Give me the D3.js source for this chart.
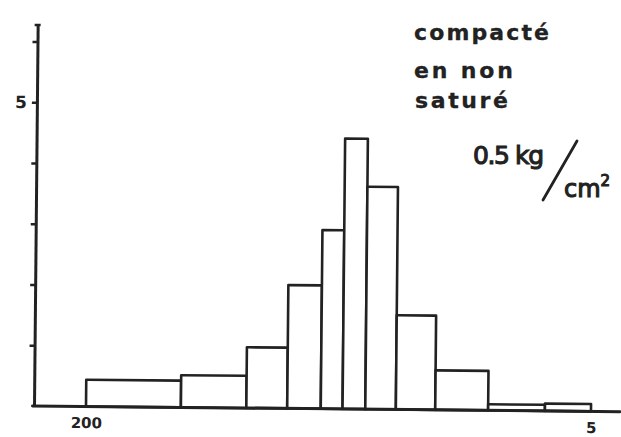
<!DOCTYPE html>
<html>
<head>
<meta charset="utf-8">
<script src="https://cdn.jsdelivr.net/npm/d3@7/dist/d3.min.js"></script>
<style>
  html, body { margin: 0; padding: 0; background: #fff; }
  svg { display: block; }
  text { font-family: "DejaVu Sans", sans-serif; fill: #222; }
</style>
</head>
<body>
<svg id="chart" width="621" height="437"></svg>
<script>
// Grain-size classes (µm, coarse to fine) and the frequency of each class
const binEdges = [200, 100, 62, 46, 36, 30.7, 26, 20.8, 15.6, 10.6, 7, 5];
const frequencies = [0.44, 0.53, 1.0, 2.03, 2.94, 4.45, 3.66, 1.55, 0.65, 0.1, 0.12];
const yTickValues = [1, 2, 3, 4, 5, 6];
const yTickLabels = ["", "", "", "", "5", ""];
const xTickValues = [200, 5];
const titleLines = ["compacté", "en non", "saturé"];

const width = 621, height = 437;
const plot = { left: 34, right: 620, top: 25, bottom: 406 };
const ink = "#222";

const svg = d3.select("#chart");

const x = d3.scaleLog().domain([200, 5]).range([86, 591]);
const y = d3.scaleLinear().domain([0, 6.27]).range([plot.bottom, plot.top]);

const bins = frequencies.map((v, i) => ({ x0: binEdges[i], x1: binEdges[i + 1], v }));

// Whole plotting frame is drawn slightly turned, as on the hand-drawn sheet
const g = svg.append("g")
  .attr("transform", `rotate(0.55, ${plot.left}, ${plot.bottom})`);

// histogram bars
g.append("g")
  .selectAll("rect")
  .data(bins)
  .join("rect")
  .attr("x", d => x(d.x0))
  .attr("width", d => x(d.x1) - x(d.x0))
  .attr("y", d => y(d.v))
  .attr("height", d => y(0) - y(d.v))
  .attr("fill", "#fff")
  .attr("stroke", ink)
  .attr("stroke-width", 2.6)
  .attr("stroke-linejoin", "round");

// y axis
const yAxis = g.append("g")
  .attr("transform", `translate(${plot.left},0)`)
  .call(d3.axisLeft(y)
    .tickValues(yTickValues)
    .tickSize(5)
    .tickSizeOuter(0)
    .tickPadding(5)
    .tickFormat((d, i) => yTickLabels[i]));
yAxis.attr("font-size", 17).attr("font-family", "DejaVu Sans");
yAxis.select(".domain").attr("stroke", ink).attr("stroke-width", 3);
yAxis.selectAll(".tick line").attr("stroke", ink).attr("stroke-width", 2.5);
yAxis.selectAll(".tick text")
  .attr("font-weight", "bold")
  .attr("fill", ink);
// small cap at the top of the y axis
yAxis.append("line")
  .attr("x1", -3).attr("x2", 3)
  .attr("y1", y.range()[1]).attr("y2", y.range()[1])
  .attr("stroke", ink).attr("stroke-width", 2.5);

// x axis baseline and end labels
g.append("line")
  .attr("x1", plot.left - 1.5).attr("x2", plot.right)
  .attr("y1", y(0)).attr("y2", y(0))
  .attr("stroke", ink).attr("stroke-width", 3)
  .attr("stroke-linecap", "round");

const xAxis = g.append("g")
  .attr("transform", `translate(0,${y(0)})`)
  .call(d3.axisBottom(x)
    .tickValues(xTickValues)
    .tickSize(0)
    .tickPadding(11)
    .tickFormat(d3.format("d")));
xAxis.attr("font-size", 15).attr("font-family", "DejaVu Sans");
xAxis.select(".domain").remove();
xAxis.selectAll(".tick text")
  .attr("font-weight", "bold")
  .attr("fill", ink);

// annotation block
const note = svg.append("g")
  .attr("stroke", ink);

const lineSpecs = [
  { x: 414, y: 40, w: 135 },
  { x: 414, y: 78, w: 99 },
  { x: 415, y: 108, w: 93 }
];
titleLines.forEach((t, i) => {
  note.append("text")
    .attr("x", lineSpecs[i].x)
    .attr("y", lineSpecs[i].y)
    .attr("textLength", lineSpecs[i].w)
    .attr("lengthAdjust", "spacing")
    .attr("stroke-width", 0.3)
    .style("font-size", "22px")
    .style("font-weight", "bold")
    .text(t);
});

note.append("text")
  .attr("x", 473).attr("y", 164)
  .attr("textLength", 71)
  .attr("lengthAdjust", "spacing")
  .attr("stroke-width", 1.1)
  .style("font-size", "25px")
  .text("0.5 kg");

note.append("line")
  .attr("x1", 543).attr("y1", 200)
  .attr("x2", 577).attr("y2", 141)
  .attr("stroke-width", 2.8)
  .attr("stroke-linecap", "round");

const unit = note.append("text")
  .attr("x", 564).attr("y", 197)
  .attr("stroke-width", 1.1)
  .style("font-size", "24px");
unit.append("tspan").text("cm");
unit.append("tspan")
  .attr("dy", -11)
  .style("font-size", "15px")
  .text("2");
</script>
</body>
</html>
